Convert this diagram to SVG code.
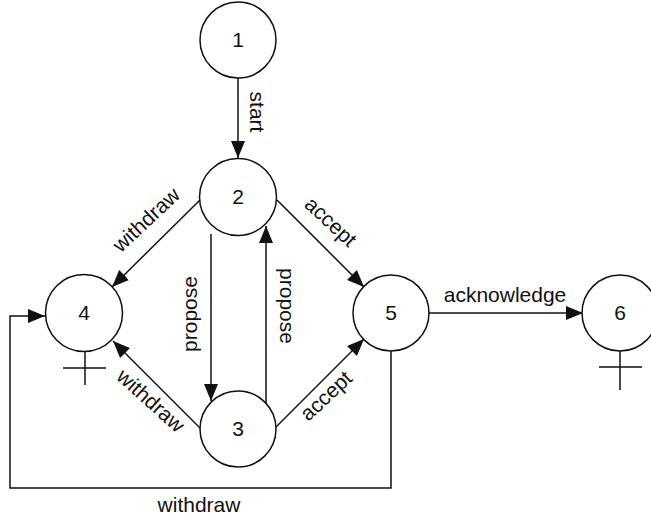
<svg xmlns="http://www.w3.org/2000/svg" width="651" height="516" viewBox="0 0 651 516">
  <style>
    .node circle { fill: #fff; stroke: #111; stroke-width: 1.5; }
    .node text { font-family: "Liberation Sans", Arial, sans-serif; font-size: 21px; fill: #111; text-anchor: middle; }
    .edge { fill: none; stroke: #111; stroke-width: 1.5; }
    .lbl { font-family: "Liberation Sans", Arial, sans-serif; font-size: 21px; fill: #111; text-anchor: middle; }
    .term { fill: none; stroke: #111; stroke-width: 1.5; }
  </style>
  <defs>
    <marker id="arrow" markerUnits="userSpaceOnUse" markerWidth="17" markerHeight="14" viewBox="0 0 17 14" refX="17" refY="7" orient="auto">
      <path d="M0,0 L17,7 L0,14 Z" fill="#111"/>
    </marker>
  </defs>

  <!-- connectors -->
  <g id="connectors">
    <line class="edge" x1="238" y1="78" x2="238" y2="158" marker-end="url(#arrow)"/>
    <line class="edge" x1="200" y1="200" x2="112" y2="287" marker-end="url(#arrow)"/>
    <line class="edge" x1="277" y1="200" x2="364" y2="287" marker-end="url(#arrow)"/>
    <line class="edge" x1="211" y1="234" x2="211" y2="401" marker-end="url(#arrow)"/>
    <line class="edge" x1="266" y1="403" x2="266" y2="226" marker-end="url(#arrow)"/>
    <line class="edge" x1="200" y1="428" x2="113" y2="341" marker-end="url(#arrow)"/>
    <line class="edge" x1="276" y1="427" x2="364" y2="339" marker-end="url(#arrow)"/>
    <line class="edge" x1="429" y1="313" x2="583" y2="313" marker-end="url(#arrow)"/>
    <polyline class="edge" points="391,351 391,488 10,488 10,316 45,316" marker-end="url(#arrow)"/>

    <text class="lbl" transform="translate(250,112) rotate(90)">start</text>
    <text class="lbl" transform="translate(151,225) rotate(-43)">withdraw</text>
    <text class="lbl" transform="translate(326,227) rotate(43)">accept</text>
    <text class="lbl" transform="translate(197,314) rotate(-90)">propose</text>
    <text class="lbl" transform="translate(280,306) rotate(90)">propose</text>
    <text class="lbl" transform="translate(146,406) rotate(42)">withdraw</text>
    <text class="lbl" transform="translate(331,401) rotate(-43)">accept</text>
    <text class="lbl" x="505" y="302">acknowledge</text>
    <text class="lbl" x="199" y="512">withdraw</text>
  </g>

  <!-- states -->
  <g id="n1" class="node">
    <circle cx="238" cy="40" r="38"/>
    <text x="238" y="47">1</text>
  </g>
  <g id="n2" class="node">
    <circle cx="238" cy="197" r="38.5"/>
    <text x="238" y="204">2</text>
  </g>
  <g id="n3" class="node">
    <circle cx="238" cy="429" r="38"/>
    <text x="238" y="436">3</text>
  </g>
  <g id="n4" class="node">
    <circle cx="84" cy="313" r="38.5"/>
    <text x="84" y="320">4</text>
    <path class="term" d="M85,352 V385 M63,368 H106"/>
  </g>
  <g id="n5" class="node">
    <circle cx="391" cy="313" r="38"/>
    <text x="391" y="320">5</text>
  </g>
  <g id="n6" class="node">
    <circle cx="620" cy="313" r="38"/>
    <text x="620" y="320">6</text>
    <path class="term" d="M620,351 V390 M599,367 H642"/>
  </g>
</svg>
